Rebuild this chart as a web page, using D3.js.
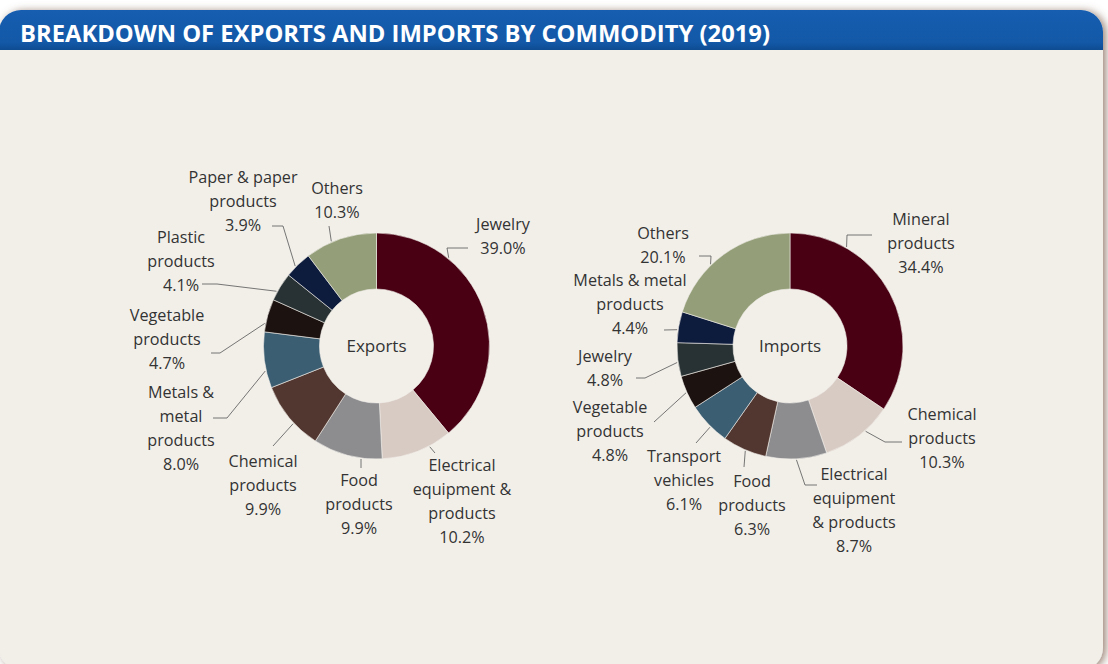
<!DOCTYPE html>
<html><head><meta charset="utf-8">
<script src="https://cdn.jsdelivr.net/npm/d3@7"></script>
<style>html,body{margin:0;padding:0;background:#fff;overflow:hidden}svg{display:block}</style>
</head><body><svg id="c" width="1108" height="664"></svg>
<script>
// ---------- DATA ----------
const exportCategories = ["Jewelry", "Electrical equipment & products", "Food products", "Chemical products", "Metals & metal products", "Vegetable products", "Plastic products", "Paper & paper products", "Others"];
const exportValues = [39.0, 10.2, 9.9, 9.9, 8.0, 4.7, 4.1, 3.9, 10.3];
const exportLabelLines = [["Jewelry"], ["Electrical", "equipment &", "products"], ["Food", "products"], ["Chemical", "products"], ["Metals &", "metal", "products"], ["Vegetable", "products"], ["Plastic", "products"], ["Paper & paper", "products"], ["Others"]];

const importCategories = ["Mineral products", "Chemical products", "Electrical equipment & products", "Food products", "Transport vehicles", "Vegetable products", "Jewelry", "Metals & metal products", "Others"];
const importValues = [34.4, 10.3, 8.7, 6.3, 6.1, 4.8, 4.8, 4.4, 20.1];
const importLabelLines = [["Mineral", "products"], ["Chemical", "products"], ["Electrical", "equipment", "& products"], ["Food", "products"], ["Transport", "vehicles"], ["Vegetable", "products"], ["Jewelry"], ["Metals & metal", "products"], ["Others"]];

const title = "BREAKDOWN OF EXPORTS AND IMPORTS BY COMMODITY (2019)";
const chartNames = ["Exports", "Imports"];

// ---------- STYLE / LAYOUT ----------
const sliceColors = ["#480012", "#d8cbc4", "#8d8d90", "#523730", "#3b5e72", "#1c120f", "#283234", "#0d1b3d", "#949f79"];
// label layout relative to donut center: text x, first baseline y, leader points (label side -> elbow), t = position along slice for arc end
const exportLayout = [
  {x: 126.5, y: -116, pts: [[91.5, -98], [70.5, -98]], t: 0.28},
  {x: 85.5, y: 125, pts: [[58.5, 107]], t: 0.32},
  {x: -17.5, y: 140, pts: [[-15.5, 122]], t: 0.30},
  {x: -113.5, y: 121, pts: [[-103.5, 100]], t: 0.40},
  {x: -195.5, y: 52, pts: [[-163.5, 72], [-149.5, 72]], t: 0.31},
  {x: -209.5, y: -25, pts: [[-165.5, 7], [-156.5, 7]], t: 0.25},
  {x: -195.5, y: -103, pts: [[-174.5, -62], [-159.5, -62]], t: 0.31},
  {x: -133.5, y: -163, pts: [[-104.5, -120], [-93.5, -120]], t: 0.40},
  {x: -39.5, y: -152, pts: [[-47.5, -120]], t: 0.37}
];
const importLayout = [
  {x: 131, y: -121, pts: [[82, -111], [57, -111]], t: 0.24},
  {x: 152, y: 74, pts: [[112, 96], [95, 96]], t: 0.39},
  {x: 64, y: 134, pts: [[27, 139], [15, 139]], t: 0.50},
  {x: -38, y: 141, pts: [[-46, 121]], t: 0.47},
  {x: -106, y: 116, pts: [[-94, 97]], t: 0.43},
  {x: -180, y: 67, pts: [[-136, 76]], t: 0.50},
  {x: -185, y: 16, pts: [[-154, 32], [-145, 32]], t: 0.42},
  {x: -160, y: -60, pts: [[-126, -16]], t: 0.41},
  {x: -127, y: -107, pts: [[-91, -90], [-79, -90]], t: 0.39}
];

const W = 1108, H = 664;
const svg = d3.select("#c");
const defs = svg.append("defs");

// shadow
const f = defs.append("filter").attr("id", "sh").attr("x", "-5%").attr("y", "-5%").attr("width", "110%").attr("height", "110%");
f.append("feGaussianBlur").attr("in", "SourceAlpha").attr("stdDeviation", 4);
f.append("feOffset").attr("dx", 3).attr("dy", 1).attr("result", "b");
f.append("feFlood").attr("flood-color", "#7a5a48").attr("flood-opacity", 0.75);
f.append("feComposite").attr("in2", "b").attr("operator", "in");
const fm = f.append("feMerge");
fm.append("feMergeNode");
fm.append("feMergeNode").attr("in", "SourceGraphic");

const hg = defs.append("linearGradient").attr("id", "hg").attr("x1", 0).attr("y1", 0).attr("x2", 0).attr("y2", 1);
hg.append("stop").attr("offset", "0%").attr("stop-color", "#175db0");
hg.append("stop").attr("offset", "80%").attr("stop-color", "#1359a8");
hg.append("stop").attr("offset", "100%").attr("stop-color", "#0f4c92");

const cardX = -1, cardY = 10, cardW = 1104, cardH = 660, rad = 22;
svg.append("rect").attr("x", cardX).attr("y", cardY).attr("width", cardW).attr("height", cardH)
  .attr("rx", rad).attr("fill", "#f2efe9").attr("filter", "url(#sh)");

const clip = defs.append("clipPath").attr("id", "cardclip");
clip.append("rect").attr("x", cardX).attr("y", cardY).attr("width", cardW).attr("height", cardH).attr("rx", rad);
svg.append("rect").attr("x", cardX).attr("y", cardY).attr("width", cardW).attr("height", 40)
  .attr("fill", "url(#hg)").attr("clip-path", "url(#cardclip)");

svg.append("text").attr("x", 20).attr("y", 42)
  .attr("font-family", "'Open Sans', sans-serif").attr("font-weight", 700).attr("font-size", 23.5)
  .attr("fill", "#fff").attr("textLength", 750).attr("lengthAdjust", "spacingAndGlyphs")
  .text(title);

const rOut = 113, rIn = 57;
const arc = d3.arc().innerRadius(rIn).outerRadius(rOut);
const pie = d3.pie().sort(null).value(d => d);
const fmt = d3.format(".1f");
const textColor = "#333";
const fontFam = "'Open Sans', sans-serif";

function donut(cx, cy, name, cats, values, lines, layout) {
  const g = svg.append("g").attr("transform", `translate(${cx},${cy})`);
  const arcs = pie(values);
  g.selectAll("path.s").data(arcs).join("path").attr("class", "s")
    .attr("d", arc).attr("fill", (d, i) => sliceColors[i])
    .attr("stroke", "#f2efe9").attr("stroke-width", 0.6);
  g.append("text").attr("text-anchor", "middle").attr("y", 6)
    .attr("font-family", fontFam).attr("font-size", 17).attr("fill", textColor).text(name);

  arcs.forEach((a, i) => {
    const L = layout[i];
    const ang = a.startAngle + L.t * (a.endAngle - a.startAngle);
    const end = [Math.sin(ang) * (rOut + 1), -Math.cos(ang) * (rOut + 1)];
    const pts = L.pts.concat([end]);
    g.append("path").attr("d", d3.line()(pts)).attr("fill", "none")
      .attr("stroke", "#555").attr("stroke-width", 0.8);
    const t = g.append("text").attr("text-anchor", "middle")
      .attr("font-family", fontFam).attr("font-size", 16.2).attr("fill", textColor);
    const all = lines[i].concat([fmt(values[i]) + "%"]);
    all.forEach((s, k) => t.append("tspan").attr("x", L.x).attr("y", L.y + k * 24).text(s));
  });
}

donut(376.5, 346, chartNames[0], exportCategories, exportValues, exportLabelLines, exportLayout);
donut(790, 346, chartNames[1], importCategories, importValues, importLabelLines, importLayout);
</script></body></html>
